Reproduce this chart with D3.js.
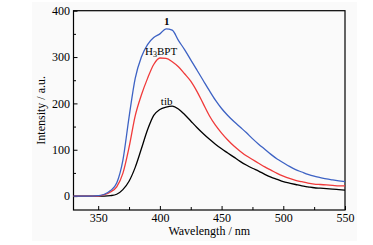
<!DOCTYPE html>
<html>
<head>
<meta charset="utf-8">
<script src="https://cdn.jsdelivr.net/npm/d3@7"></script>
<style>
  body { margin: 0; background: #fff; }
  svg { display: block; }
</style>
</head>
<body>
<svg id="chart" width="373" height="245" font-family="'Liberation Serif', 'Times New Roman', Times, serif"></svg>
<script>
// wavelength grid (nm)
const wavelength = [330,335,340,345,350,355,360,365,370,375,380,385,390,395,400,405,410,415,420,425,
  430,435,440,445,450,455,460,465,470,475,480,485,490,495,500,505,510,515,520,525,530,535,540,545,550];

// compound 1 (blue)
const series1 = [0,0,0,0,1,4,12,28,77,170,254,300,327,342,350,361,358,336,316,294,
  272,250,228,207,189,174,161,149,137,124,112,101,90,80,72,64,57,52,47,43,40,37,35,33,31];
// H3BPT (red)
const seriesH3BPT = [0,0,0,0,0,3,9,20,49,105,173,218,254,284,298,297,290,279,264,248,
  226,200,174,153,136,121,108,97,87,79,71,63,56,49,43,38,34,31,28,26,25,24,23,22,22];
// tib (black)
const seriesTib = [0,0,0,0,0,0,1,4,14,32,62,102,143,174,187,192,194,188,176,162,
  148,135,123,112,102,93,84,75,67,60,54,47,41,36,31,28,25,22,20,18,17,16,15,14,13];

const xTicks = [350, 400, 450, 500, 550];
const yTicks = [0, 100, 200, 300, 400];

const svg = d3.select('#chart');

// faint page background of the scanned figure
svg.append('rect')
    .attr('x', 32).attr('y', 2)
    .attr('width', 325).attr('height', 239)
    .attr('fill', '#fafafa');

const margin = { left: 73.5, top: 10.7, right: 28, bottom: 35 };
const W = 373 - margin.right;
const H = 245 - margin.bottom;

const x = d3.scaleLinear().domain([330, 550]).range([margin.left, W]);
const y = d3.scaleLinear().domain([-30, 400]).range([H, margin.top]);

const g = svg.append('g');

// 刻度 (inward ticks)
const xAxis = g.append('g')
    .attr('transform', `translate(0,${H})`)
    .call(d3.axisBottom(x).tickValues(d3.range(350, 551, 25)).tickSizeInner(-4).tickSizeOuter(0)
        .tickFormat(d => xTicks.includes(d) ? d : ''));
xAxis.selectAll('.tick line').attr('y2', d => xTicks.includes(d) ? -4 : -3);
xAxis.selectAll('text').attr('dy', 0).attr('y', 12);

const yAxis = g.append('g')
    .attr('transform', `translate(${margin.left},0)`)
    .call(d3.axisLeft(y).tickValues(d3.range(0, 401, 50)).tickSizeInner(-4).tickSizeOuter(0)
        .tickFormat(d => yTicks.includes(d) ? d : ''));
yAxis.selectAll('.tick line').attr('x2', d => yTicks.includes(d) ? 4 : 2.5);
yAxis.selectAll('text').attr('x', -3.5);

svg.selectAll('.domain').remove();
// d3 axis puts sans-serif on its group; switch back to serif
xAxis.attr('font-family', null).attr('font-size', 12);
yAxis.attr('font-family', null).attr('font-size', 12);
svg.selectAll('.tick line').attr('stroke', '#000').attr('stroke-width', 1);
svg.selectAll('.tick text').attr('fill', '#000');

// 外框
g.append('rect')
    .attr('x', margin.left).attr('y', margin.top)
    .attr('width', W - margin.left).attr('height', H - margin.top)
    .attr('fill', 'none').attr('stroke', '#000').attr('stroke-width', 1.2);

// curves
const line = d3.line()
    .x((d, i) => x(wavelength[i]))
    .y(d => y(d))
    .curve(d3.curveMonotoneX);

const curves = [
    { data: seriesTib, color: '#000000' },
    { data: seriesH3BPT, color: '#f03a3a' },
    { data: series1, color: '#3d62c4' },
];
g.selectAll('.curve')
    .data(curves)
    .join('path')
    .attr('class', 'curve')
    .attr('d', d => line(d.data))
    .attr('fill', 'none')
    .attr('stroke', d => d.color)
    .attr('stroke-width', 1.3);

// curve labels
g.append('text')
    .attr('x', x(405.5)).attr('y', 25)
    .attr('text-anchor', 'middle').attr('font-size', 11).attr('font-weight', 'bold')
    .text('1');

const hl = g.append('text')
    .attr('x', x(401)).attr('y', 54.5)
    .attr('text-anchor', 'middle').attr('font-size', 11);
hl.append('tspan').text('H');
hl.append('tspan').attr('font-size', 8).attr('dy', 2.5).text('3');
hl.append('tspan').attr('dy', -2.5).text('BPT');

g.append('text')
    .attr('x', x(405.5)).attr('y', 105)
    .attr('text-anchor', 'middle').attr('font-size', 11)
    .text('tib');

// axis titles
g.append('text')
    .attr('x', (margin.left + W) / 2).attr('y', 235)
    .attr('text-anchor', 'middle').attr('font-size', 12)
    .text('Wavelength / nm');

g.append('text')
    .attr('transform', `translate(45,${(margin.top + H) / 2}) rotate(-90)`)
    .attr('text-anchor', 'middle').attr('font-size', 12)
    .text('Intensity / a.u.');
</script>
</body>
</html>
